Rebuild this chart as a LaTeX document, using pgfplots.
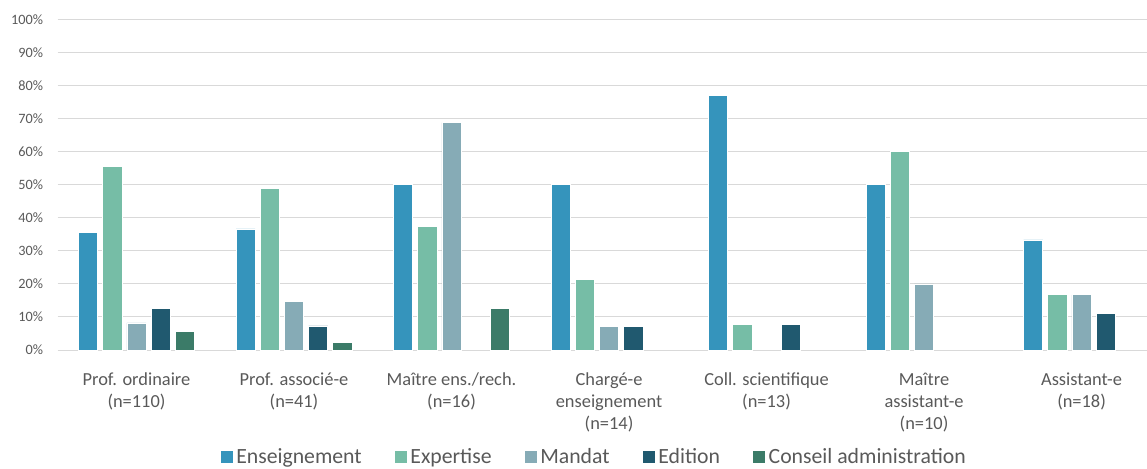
\documentclass[border=0pt]{standalone}
\usepackage{fontspec}
\setmainfont{Carlito}
\usepackage{pgfplots}
\usepackage{pgfplotstable}
\pgfplotsset{compat=1.18}

\definecolor{cEns}{HTML}{3594BC}
\definecolor{cExp}{HTML}{76BDA6}
\definecolor{cMan}{HTML}{86ABB6}
\definecolor{cEdi}{HTML}{20596F}
\definecolor{cCon}{HTML}{3B7B68}
\definecolor{gridgray}{HTML}{D9D9D9}
\definecolor{textgray}{HTML}{595959}

% parts in percent, nan = no bar
\pgfplotstableread{
x ens exp man edi con
0 35.5 55.5 8.2 12.7 5.5
1 36.6 48.8 14.6 7.3 2.4
2 50 37.5 68.75 nan 12.5
3 50 21.4 7.1 7.1 nan
4 76.9 7.7 nan 7.7 nan
5 50 60 20 nan nan
6 33.3 16.7 16.7 11.1 nan
}\data

\begin{document}
\begin{tikzpicture}
\useasboundingbox (-43.3pt,-88.5pt) rectangle (816.9pt,262.5pt);
\begin{axis}[
    at={(0pt,0pt)}, anchor=south west,
    scale only axis,
    width=826.9pt, height=248pt,
    ybar=3.75pt, bar width=14.4pt,
    xmin=-0.5, xmax=6.5,
    ymin=0, ymax=100,
    ytick={0,10,...,100},
    yticklabel={\pgfmathprintnumber{\tick}\%},
    xtick={0,...,6},
    xticklabels={{Prof. ordinaire\\(n=110)},{Prof. associé-e\\(n=41)},{Maître ens./rech.\\(n=16)},{Chargé-e\\enseignement\\(n=14)},{Coll. scientifique\\(n=13)},{Maître\\assistant-e\\(n=10)},{Assistant-e\\(n=18)}},
    xticklabel style={align=center, inner sep=0pt, yshift=-12.9pt, text=textgray, font=\fontsize{13.8}{16.5}\selectfont},
    yticklabel style={inner sep=0pt, xshift=-10.8pt, text=textgray, font=\fontsize{10.7}{12}\selectfont},
    /pgf/number format/assume math mode=true,
    tick style={draw=none},
    axis line style={draw=none},
    ymajorgrids, grid style={gridgray, line width=0.75pt},
    unbounded coords=discard,
    legend columns=-1,
    legend image code/.code={\fill[#1] (0pt,-5pt) rectangle (10pt,5pt);},
    legend style={at={(0.4864,-0.324)}, anchor=center, draw=none, fill=none,
        font=\fontsize{16.3}{19}\selectfont, text=textgray,
        /tikz/every even column/.append style={column sep=22pt}},
]
\addplot[fill=cEns, draw=white, line width=0.5pt] table[x=x,y=ens]{\data};
\addplot[fill=cExp, draw=white, line width=0.5pt] table[x=x,y=exp]{\data};
\addplot[fill=cMan, draw=white, line width=0.5pt] table[x=x,y=man]{\data};
\addplot[fill=cEdi, draw=white, line width=0.5pt] table[x=x,y=edi]{\data};
\addplot[fill=cCon, draw=white, line width=0.5pt] table[x=x,y=con]{\data};
\legend{Enseignement,Expertise,Mandat,Edition,Conseil administration}
\end{axis}
\end{tikzpicture}
\end{document}
